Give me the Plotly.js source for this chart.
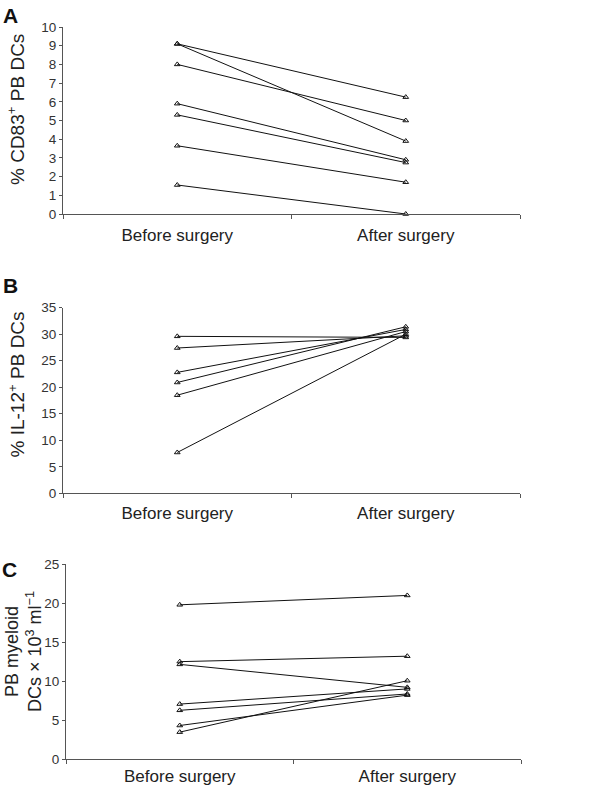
<!DOCTYPE html>
<html>
<head>
<meta charset="utf-8">
<script src="https://cdn.plot.ly/plotly-3.0.1.min.js"></script>
<style>html,body{margin:0;padding:0;background:#fff}#chart{width:600px;height:788px}</style>
</head>
<body>
<div id="chart"></div>
<script>
// Categories
const categories = ['Before surgery', 'After surgery'];

// Panel A: % CD83+ PB DCs (one pair per patient)
const cd83Before = [9.1, 9.1, 8.0, 5.9, 5.3, 3.65, 1.55];
const cd83After  = [6.25, 3.9, 5.0, 2.9, 2.75, 1.7, 0];

// Panel B: % IL-12+ PB DCs
const il12Before = [29.6, 27.4, 22.8, 20.9, 18.5, 7.7];
const il12After  = [29.4, 29.7, 30.9, 31.4, 30.5, 30.0];

// Panel C: PB myeloid DCs x 10^3 ml^-1
const myeloidBefore = [19.8, 12.5, 12.15, 7.05, 6.25, 4.3, 3.45];
const myeloidAfter  = [21.0, 13.2, 9.2, 9.0, 8.35, 8.2, 10.05];

// Tick settings
const tickStepA = 1, tickStepB = 5, tickStepC = 5;
const yMaxA = 10, yMaxB = 35, yMaxC = 25;

function pairTraces(before, after, xa, ya) {
  return before.map((b, i) => ({
    type: 'scatter', mode: 'lines+markers',
    x: categories, y: [b, after[i]],
    xaxis: xa, yaxis: ya,
    cliponaxis: false,
    showlegend: false,
    line: {color: '#111', width: 1},
    marker: {symbol: 'triangle-up-open', size: 5, color: '#111', line: {width: 1, color: '#111'}}
  }));
}

const data = [
  ...pairTraces(cd83Before, cd83After, 'x', 'y'),
  ...pairTraces(il12Before, il12After, 'x2', 'y2'),
  ...pairTraces(myeloidBefore, myeloidAfter, 'x3', 'y3')
];

const W = 600, H = 788;
const px = v => v / W;
const py = v => 1 - v / H;

const tickFont = {family: 'Liberation Sans, Arial, sans-serif', size: 13.5, color: '#333'};
const catFont = {family: 'Liberation Sans, Arial, sans-serif', size: 17, color: '#222'};
const titleFont = {family: 'Liberation Sans, Arial, sans-serif', size: 19, color: '#222'};
const titleFontC = {family: 'Liberation Sans, Arial, sans-serif', size: 18, color: '#222'};
const letterFont = {family: 'Liberation Sans, Arial, sans-serif', size: 21, color: '#111'};

function xAxis(domain, anchor, standoff) {
  return {
    type: 'category', domain: domain, anchor: anchor,
    range: [-0.5, 1.5], tickson: 'boundaries',
    ticks: 'outside', ticklen: 4, tickcolor: '#555', tickwidth: 1,
    showline: true, linecolor: '#555', linewidth: 1,
    showgrid: false, zeroline: false,
    tickfont: catFont, ticklabelstandoff: standoff, fixedrange: true
  };
}
function yAxis(domain, anchor, maxV, step) {
  return {
    domain: domain, anchor: anchor, range: [0, maxV], dtick: step, tick0: 0,
    ticks: 'outside', ticklen: 3, tickcolor: '#555', tickwidth: 1,
    showline: true, linecolor: '#555', linewidth: 1,
    showgrid: false, zeroline: false, tickfont: tickFont, fixedrange: true
  };
}

const layout = {
  width: W, height: H,
  margin: {l: 0, r: 0, t: 0, b: 0},
  paper_bgcolor: '#fff', plot_bgcolor: '#fff',
  showlegend: false,
  xaxis:  xAxis([px(63), px(520)], 'y', 6),
  yaxis:  yAxis([py(214), py(27)], 'x', yMaxA, tickStepA),
  xaxis2: xAxis([px(63), px(520)], 'y2', 4),
  yaxis2: yAxis([py(493.3), py(307.7)], 'x2', yMaxB, tickStepB),
  xaxis3: xAxis([px(66), px(521)], 'y3', 2),
  yaxis3: yAxis([py(759), py(564.3)], 'x3', yMaxC, tickStepC),
  annotations: [
    {text: '<b>A</b>', x: px(10), y: py(15), xref: 'paper', yref: 'paper', showarrow: false, font: letterFont, xanchor: 'center', yanchor: 'middle'},
    {text: '<b>B</b>', x: px(10), y: py(286), xref: 'paper', yref: 'paper', showarrow: false, font: letterFont, xanchor: 'center', yanchor: 'middle'},
    {text: '<b>C</b>', x: px(9), y: py(569), xref: 'paper', yref: 'paper', showarrow: false, font: letterFont, xanchor: 'center', yanchor: 'middle'},
    {text: '% CD83<sup>+</sup> PB DCs', x: px(16), y: py(110), xref: 'paper', yref: 'paper', showarrow: false, textangle: -90, font: titleFont, xanchor: 'center', yanchor: 'middle'},
    {text: '% IL-12<sup>+</sup> PB DCs', x: px(16.5), y: py(385), xref: 'paper', yref: 'paper', showarrow: false, textangle: -90, font: titleFont, xanchor: 'center', yanchor: 'middle'},
    {text: 'PB myeloid<br>DCs × 10<sup>3</sup> ml<sup>−1</sup>', x: px(23), y: py(652), xref: 'paper', yref: 'paper', showarrow: false, textangle: -90, font: titleFontC, xanchor: 'center', yanchor: 'middle'}
  ]
};

Plotly.newPlot('chart', data, layout, {displayModeBar: false, staticPlot: true});
</script>
</body>
</html>
